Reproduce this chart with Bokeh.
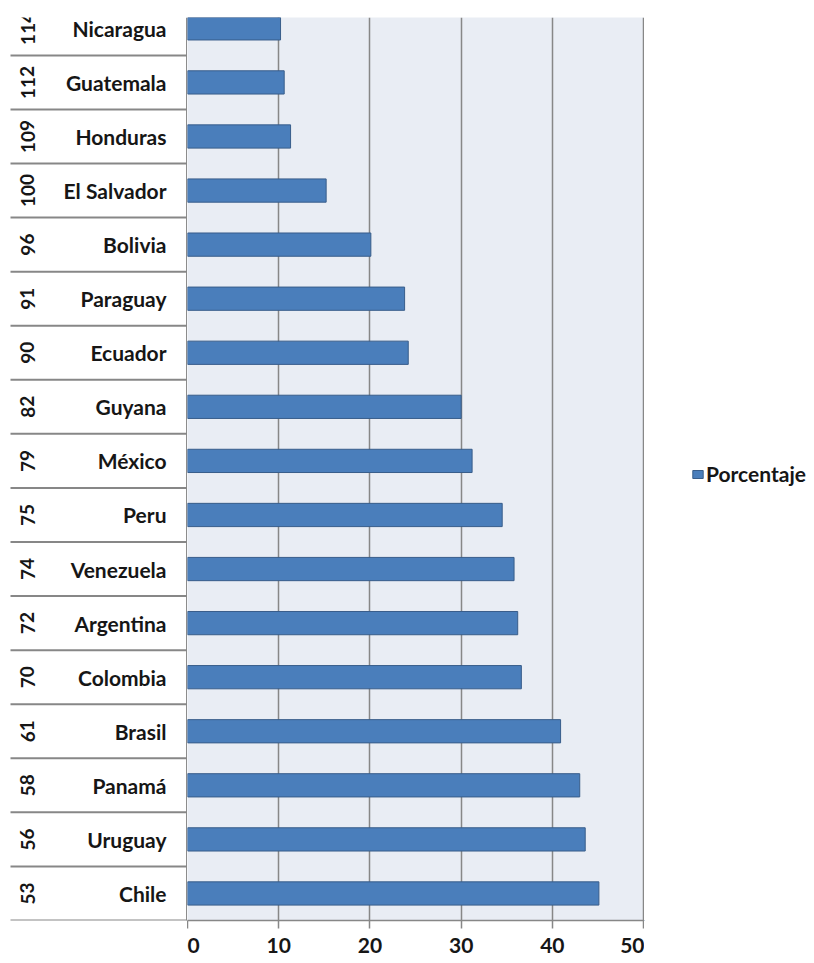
from bokeh.plotting import figure
from bokeh.layouts import row
from bokeh.models import Range1d, FixedTicker, Legend, LegendItem, ColumnDataSource
from bokeh.embed import file_html
from bokeh.resources import INLINE
from bokeh.core.properties import value

# ---- data (bottom to top) ----
countries = ["Chile", "Uruguay", "Panamá", "Brasil", "Colombia", "Argentina", "Venezuela",
             "Peru", "México", "Guyana", "Ecuador", "Paraguay", "Bolivia", "El Salvador",
             "Honduras", "Guatemala", "Nicaragua"]
ranks = ["53", "56", "58", "61", "70", "72", "74", "75", "79", "82", "90", "91", "96",
         "100", "109", "112", "114"]
porcentaje = [45.1, 43.6, 43.0, 40.9, 36.6, 36.2, 35.8, 34.5, 31.2, 30.0, 24.2, 23.8,
              20.1, 15.2, 11.3, 10.6, 10.2]
x_ticks = [0, 10, 20, 30, 40, 50]
grid_ticks = [10, 20, 30, 40, 50]
series_name = "Porcentaje"

ROW = 54.07
FONT = "Lato"
TXT = "#161616"
GRID = "#878787"
BAR_FILL = "#4A7EBB"
BAR_LINE = "#385D8A"

pos = list(range(len(countries)))
seps = [y - 0.5 for y in pos]

src = ColumnDataSource(dict(y=pos, country=countries, rank=ranks, v=porcentaje))

yr = Range1d(-0.5, -0.5 + 903 / ROW)
common = dict(height=963, toolbar_location=None, output_backend="svg",
              min_border_left=0, min_border_right=0, min_border_top=17,
              min_border_bottom=43, outline_line_color=None)

# ---- left label panel ----
left = figure(width=187, x_range=Range1d(0, 187), y_range=yr,
              x_axis_location=None, y_axis_location=None, **common)
left.grid.visible = False
left.text(x=166, y="y", text="country", source=src, text_align="right",
          text_baseline="middle", text_font=value(FONT), text_font_style="bold",
          text_font_size="21px", text_color=TXT)
left.text(x=27, y="y", text="rank", source=src, text_align="center",
          text_baseline="middle", angle=1.5708, text_font=value(FONT),
          text_font_style="bold", text_font_size="19px", text_color=TXT)
left.segment(x0=10, x1=187, y0=seps, y1=seps, line_color=GRID, line_width=2)
left.segment(x0=186.3, x1=186.3, y0=-0.5, y1=-0.5 + 903 / ROW, line_color=GRID,
             line_width=1.5)

# ---- bar panel ----
p = figure(width=457, x_range=Range1d(0, 50.1), y_range=yr, y_axis_location=None,
           background_fill_color="#E9EDF4", border_fill_color="white", **common)

bars = p.hbar(y="y", left=0, right="v", height=0.43, source=src,
              fill_color=BAR_FILL, line_color=BAR_LINE, line_width=1)

ax = p.xaxis[0]
ax.ticker = FixedTicker(ticks=x_ticks)
ax.axis_line_color = GRID
ax.axis_line_width = 1.5
ax.major_tick_line_color = GRID
ax.major_tick_line_width = 1.5
ax.major_tick_out = 8
ax.major_tick_in = 0
ax.minor_tick_out = 0
ax.minor_tick_in = 0
ax.major_label_text_font = FONT
ax.major_label_text_font_style = "bold"
ax.major_label_text_font_size = "21px"
ax.major_label_text_color = TXT
ax.major_label_standoff = 9

p.xgrid.ticker = FixedTicker(ticks=grid_ticks)
p.xgrid.grid_line_color = GRID
p.xgrid.grid_line_width = 1.5
p.ygrid.visible = False

# ---- legend panel ----
lg = figure(width=170, x_range=Range1d(0, 1), y_range=Range1d(0, 1),
            x_axis_location=None, y_axis_location=None, **common)
lg.grid.visible = False
# swatch renderer kept outside the visible range; only its legend glyph shows
swatch = lg.hbar(y=[-10], left=[-10], right=[-9], height=0.5, fill_color=BAR_FILL,
                 line_color=BAR_LINE, line_width=1)
legend = Legend(items=[LegendItem(label=series_name, renderers=[swatch])],
                location=(47, 434), glyph_width=13, glyph_height=10,
                label_text_font=FONT, label_text_font_style="bold",
                label_text_font_size="21px", label_text_color=TXT,
                padding=0, margin=0, spacing=0, label_standoff=2,
                border_line_color=None, background_fill_alpha=0)
lg.add_layout(legend)

layout = row(left, p, lg, spacing=0)
open("out.html", "w").write(file_html(layout, INLINE))
